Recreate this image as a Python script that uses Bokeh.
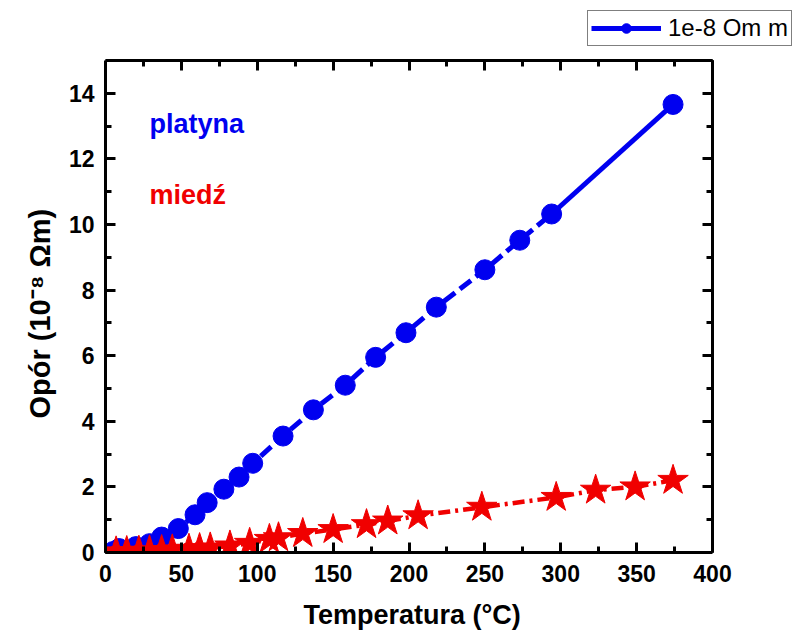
from bokeh.plotting import figure
from bokeh.models import (Range1d, LinearAxis, Legend, LegendItem, Label, Title,
                          SingleIntervalTicker, CustomJSTickFormatter)
from bokeh.embed import file_html
from bokeh.resources import INLINE

# Platinum (platyna) resistivity, 1e-8 Ohm m
pt_T = [5, 9, 20, 29, 37, 48, 59, 67, 78, 88, 97, 117, 137, 158, 178, 198, 218, 250, 273, 294, 374]
pt_R = [0.03, 0.12, 0.18, 0.27, 0.47, 0.73, 1.15, 1.52, 1.93, 2.30, 2.72, 3.55, 4.35, 5.10, 5.95, 6.70, 7.48, 8.62, 9.52, 10.32, 13.66]

# Copper (miedz) resistivity
cu_T = [7, 14, 22, 29, 37, 44, 55, 62, 69, 82, 95, 108, 114, 130, 150, 172, 186, 206, 248, 297, 323, 349, 374]
cu_R = [0.02, 0.03, 0.04, 0.05, 0.06, 0.08, 0.10, 0.12, 0.14, 0.20, 0.28, 0.40, 0.45, 0.58, 0.70, 0.85, 0.96, 1.12, 1.38, 1.68, 1.90, 2.00, 2.20]

legend_label = "1e-8 Om m"
x_label = "Temperatura (°C)"
y_label = "Opór (10⁻⁸ Ωm)"

X_AXIS = (0, 400)
Y_AXIS = (0, 15)

BLUE = "#0000f0"
RED = "#f00000"
FONT = "Liberation Sans"

# The frame is enlarged beyond the axis box (axes use bounds) so that the
# legend, which sits above / right of the axis box, is not clipped.
p = figure(frame_width=693, frame_height=546, output_backend="svg", toolbar_location=None,
           x_range=Range1d(0, 456.67), y_range=Range1d(0, 16.646),
           min_border_left=105, min_border_right=2, min_border_top=6, min_border_bottom=84,
           x_axis_location=None, y_axis_location=None)
p.xgrid.visible = False
p.ygrid.visible = False
p.outline_line_color = None

blank = CustomJSTickFormatter(code="return ''")

def style_axis(ax, show_labels=True):
    ax.axis_line_width = 3
    ax.axis_line_color = "black"
    ax.major_tick_in = 10
    ax.major_tick_out = 0
    ax.minor_tick_in = 6
    ax.minor_tick_out = 0
    ax.major_tick_line_width = 3
    ax.minor_tick_line_width = 3
    ax.major_label_text_font = FONT
    ax.major_label_text_font_style = "bold"
    ax.major_label_text_font_size = "23px"
    ax.major_label_text_color = "black"
    if not show_labels:
        ax.formatter = blank
        ax.major_label_standoff = 0

xb = LinearAxis(ticker=SingleIntervalTicker(interval=50, num_minor_ticks=2), bounds=X_AXIS)
style_axis(xb)
xb.major_label_standoff = 12
p.add_layout(xb, "below")

xt = LinearAxis(ticker=SingleIntervalTicker(interval=50, num_minor_ticks=2),
                bounds=X_AXIS, fixed_location=Y_AXIS[1])
style_axis(xt, False)
p.add_layout(xt, "above")

yl = LinearAxis(ticker=SingleIntervalTicker(interval=2, num_minor_ticks=2), bounds=Y_AXIS)
style_axis(yl)
yl.major_label_standoff = 11
p.add_layout(yl, "left")

yr = LinearAxis(ticker=SingleIntervalTicker(interval=2, num_minor_ticks=2),
                bounds=Y_AXIS, fixed_location=X_AXIS[1])
style_axis(yr, False)
p.add_layout(yr, "right")

# axis titles, centred on the axis box rather than on the enlarged frame
p.add_layout(Title(text=x_label, align="left", offset=198, standoff=26,
                   text_font=FONT, text_font_style="bold", text_font_size="27px",
                   text_color="black"), "below")
p.add_layout(Title(text=y_label, align="left", offset=134, standoff=20,
                   text_font=FONT, text_font_style="bold", text_font_size="29px",
                   text_color="black"), "left")

# platinum line: dashed, last segment solid
p.line(pt_T[:-1], pt_R[:-1], line_color=BLUE, line_width=5, line_dash="14 6")
solid = p.line(pt_T[-2:], pt_R[-2:], line_color=BLUE, line_width=5)
circ = p.scatter(pt_T, pt_R, marker="circle", size=20, fill_color=BLUE, line_color=BLUE)

# copper line: dash-dot
p.line(cu_T, cu_R, line_color=RED, line_width=4.5, line_dash="12 5 3 5")
p.scatter(cu_T, cu_R, marker="star", size=32, fill_color=RED, line_color=RED)

p.add_layout(Label(x=29, y=13.05, text="platyna", text_color=BLUE, text_font=FONT,
                   text_font_style="bold", text_font_size="27px", text_baseline="alphabetic"))
p.add_layout(Label(x=29, y=10.89, text="miedź", text_color=RED, text_font=FONT,
                   text_font_style="bold", text_font_size="27px", text_baseline="alphabetic"))

legend = Legend(items=[LegendItem(label=legend_label, renderers=[solid, circ])],
                location=(482, 506), border_line_color="black", border_line_width=1.5,
                label_text_font=FONT, label_text_font_size="24px", label_text_color="black",
                glyph_width=70, glyph_height=24, padding=3, margin=0,
                label_standoff=7, spacing=0, background_fill_alpha=1)
p.add_layout(legend)

open("out.html", "w").write(file_html(p, INLINE))
